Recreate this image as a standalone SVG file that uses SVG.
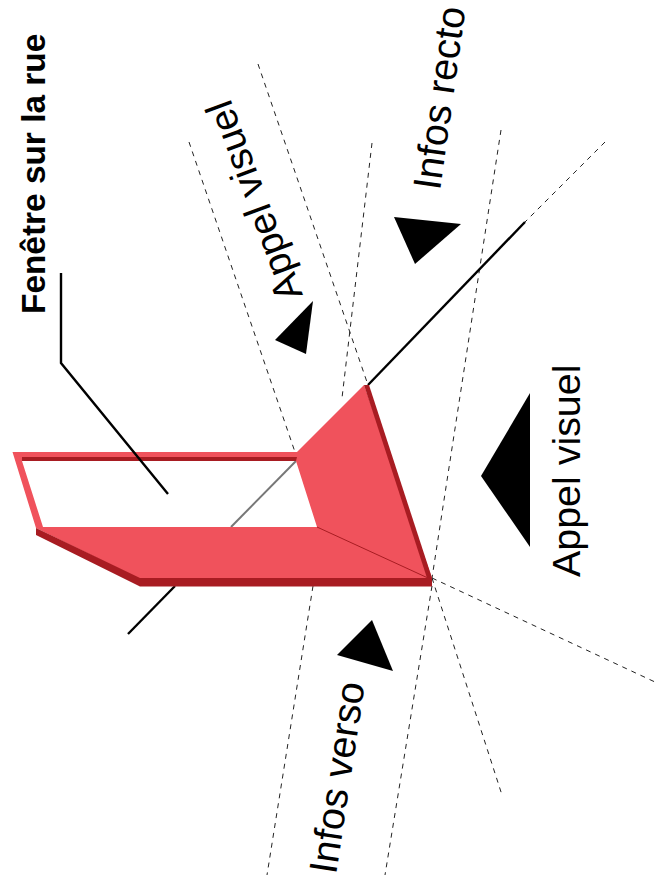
<svg xmlns="http://www.w3.org/2000/svg" width="655" height="886" viewBox="0 0 655 886">
<style>
.l{fill:#f0525c}.d{fill:#a81c22}
.dash{fill:none;stroke:#222;stroke-width:1;stroke-dasharray:5 5}
.k{fill:none;stroke:#000;stroke-width:2.4}
.t{font-family:"Helvetica Neue","Liberation Sans",Arial,sans-serif;fill:#000;font-size:39px}
.tri{fill:#000}
</style>
<rect width="655" height="886" fill="#fff"/>
<g id="connectors">
<path class="dash" d="M258 64L368 385"/>
<path class="dash" d="M189 142L296 455"/>
<path class="dash" d="M372 143L342 398"/>
<path class="dash" d="M501 130L432 578"/>
<path class="dash" d="M605 142L525 222"/>
<path class="dash" d="M432 578L655 682"/>
<path class="dash" d="M432 578L502 795"/>
<path class="dash" d="M432 586L385 875"/>
<path class="dash" d="M313 586L267 875"/>
<path class="k" d="M525 222L368 385"/>
<path d="M296 461L231 527" fill="none" stroke="#777" stroke-width="2"/>
<path class="k" d="M175 586L128 634"/>
</g>
<g id="frame">
<path class="l" d="M12.5 452H297L364 385L432 578V579H140L36 528L12.5 452ZM22 461L43 527H317L296 461Z" fill-rule="evenodd"/>
<path class="d" d="M22 457H297L296 461H22Z"/>
<path class="d" d="M364 385H369L432 578H427Z"/>
<path class="d" d="M36 528L140 578H432V586.5H140L36 535Z"/>
<path d="M317 527L428 578" stroke="#a81c22" fill="none"/>
</g>
<g id="leader"><path class="k" d="M61 273V363L168 494"/></g>
<g id="label-fenetre"><text class="t" style="font-weight:bold;font-size:33.4px" transform="translate(45,314) rotate(-90)">Fenêtre sur la rue</text></g>
<g id="label-appel-1"><text class="t" transform="translate(303,295) rotate(-110.3)">Appel visuel</text><polygon class="tri" points="313,301 275,340 306,354"/></g>
<g id="label-recto"><text class="t" style="font-size:39.5px" transform="translate(440,191) rotate(-82)">Infos recto</text><polygon class="tri" points="394,217 461,224 415,264"/></g>
<g id="label-appel-2"><text class="t" style="font-size:39.4px" transform="translate(580,577) rotate(-90)">Appel visuel</text><polygon class="tri" points="530,393 530,547 481,476"/></g>
<g id="label-verso"><text class="t" style="font-size:39.5px" transform="translate(336,875) rotate(-81.4)">Infos verso</text><polygon class="tri" points="372,620 337,655 393,671"/></g>
</svg>
